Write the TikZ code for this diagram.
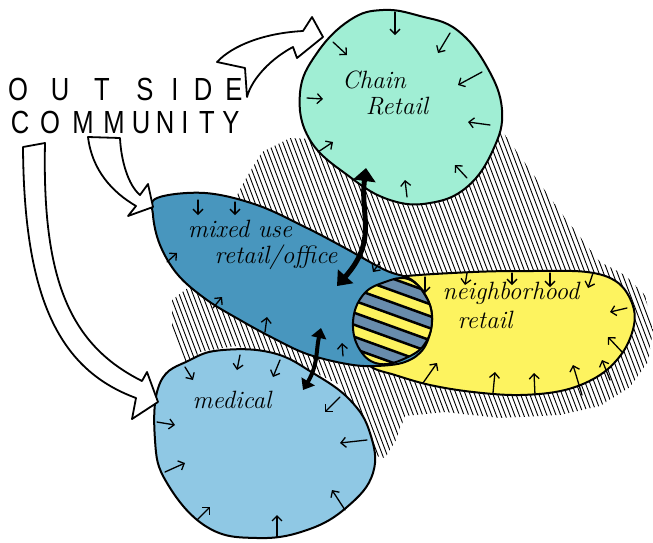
\documentclass[tikz,border=0pt]{standalone}
\usepackage{fontspec}
\newfontfamily\letterfont[FakeStretch=0.8]{Liberation Sans}
\usetikzlibrary{arrows.meta}
\definecolor{mint}{RGB}{160,238,212}
\definecolor{mixblue}{RGB}{72,150,190}
\definecolor{sun}{RGB}{253,243,95}
\definecolor{skyblue}{RGB}{143,200,228}
\definecolor{slate}{RGB}{104,140,172}
\begin{document}
\begin{tikzpicture}[x=1pt,y=-1pt,
  region/.style={draw=black,line width=2pt,line join=round},
  blockarrow/.style={draw=black,fill=white,line width=1.8pt,line join=round},
  inarrow/.style={line width=1.3pt,line cap=round,-{Straight Barb[length=5pt,width=10pt]}},
  linkarrow/.style={line width=5pt,{Triangle[length=13pt,width=22pt]}-{Triangle[length=13pt,width=20pt]}},
  smalllink/.style={line width=4pt,{Triangle[length=10pt,width=15pt]}-{Triangle[length=10pt,width=15pt]}},
  hatchline/.style={line width=0.9pt},
  bigletter/.style={font=\letterfont\fontsize{32}{32}\selectfont,inner sep=0pt,anchor=base},
  hand/.style={font=\itshape\fontsize{25}{27}\selectfont,inner sep=0pt}]
\useasboundingbox (0,0) rectangle (653,542);

% hatched ground behind the districts
\begin{scope}
  \clip (232,205) -- (245,180) -- (262,152) -- (290,138) -- (330,140) -- (470,160)
    -- (500,128) -- (530,170) -- (565,218) -- (600,262) -- (625,275) -- (645,295)
    -- (653,330) -- (648,362) -- (630,387) -- (600,406) -- (560,415) -- (500,418)
    -- (445,412) -- (405,416) -- (396,440) -- (385,458) -- (372,455) -- (365,430)
    -- (340,385) -- (290,360) -- (235,346) -- (200,352) -- (185,368) -- (172,330)
    -- (172,300) -- (185,290) -- (200,280) -- cycle;
  \foreach \s in {0,4.6,...,660} \draw[hatchline] (\s,100) -- ++(170,450);
\end{scope}

% districts
\path[region,fill=mint] plot[smooth cycle,tension=0.7] coordinates {
  (383,10) (420,16) (457,30) (487,67) (502,110) (493,150) (467,187) (430,203)
  (390,200) (350,177) (310,140) (300,93) (317,53) (350,20)};
\path[region,fill=skyblue] plot[smooth cycle,tension=0.7] coordinates {
  (190,360) (223,350) (273,353) (313,373) (350,400) (370,433) (373,473)
  (347,507) (307,530) (257,538) (207,527) (167,483) (155,440) (160,383)};
\path[region,fill=sun] plot[smooth cycle,tension=0.6] coordinates {
  (397,277) (473,272) (530,271) (587,272) (617,282) (632,303) (634,325)
  (623,352) (600,375) (565,390) (520,395) (473,392) (430,385) (395,375)
  (370,366) (355,345) (355,305) (372,285)};
\path[region,fill=mixblue] plot[smooth cycle,tension=0.6] coordinates {
  (157,198) (205,193) (257,205) (307,228) (345,248) (385,270) (412,280)
  (428,300) (432,322) (424,348) (405,362) (375,366) (347,364) (307,354)
  (273,338) (240,320) (207,300) (178,275) (160,245) (153,215)};

% shared ground of mixed use and neighborhood retail
\def\lens{plot[smooth cycle,tension=0.7] coordinates {
  (353,322) (363,295) (385,282) (408,279) (425,295) (432,318) (426,342)
  (408,357) (380,364) (360,350)}}
\begin{scope}
  \clip \lens;
  \fill[sun] (330,260) rectangle (460,390);
  \foreach \k in {-4,...,4} {
    \draw[slate,line width=11pt] (330,{286+24*\k}) -- ++(130,47);
    \draw[black,line width=2.5pt] (330,{280+24*\k}) -- ++(130,47);
    \draw[black,line width=2.5pt] (330,{292+24*\k}) -- ++(130,47);
  }
\end{scope}
\draw[region] \lens;

% inward arrows along the edges
\foreach \a/\b/\c/\d in {
  395/12/395/35, 333/42/347/55, 450/33/438/53, 482/72/458/85, 490/125/468/122,
  467/178/455/165, 407/197/405/180, 318/152/333/142, 307/98/323/99,
  198/200/198/215, 235/202/235/215, 167/262/177/253, 213/308/222/297,
  265/332/267/317, 343/356/342/343, 380/262/373/272,
  425/277/425/293, 467/273/465/285, 512/273/512/285, 550/273/550/287,
  593/273/588/288, 627/308/610/312, 623/353/608/337, 610/380/602/360,
  582/395/573/365, 535/395/534/373, 493/393/495/372, 423/383/437/363,
  185/367/193/380, 240/355/237/370, 280/360/273/377, 340/397/325/412,
  367/440/340/443, 345/510/332/490, 277/537/277/515, 197/520/210/507,
  165/472/185/463, 157/422/175/425}
  \draw[inarrow] (\a,\b) -- (\c,\d);

% links between districts
\coordinate (chainend) at (366,168);
\coordinate (mixedtop) at (337,286);
\coordinate (mixedlow) at (321,328);
\coordinate (medtop) at (303,390);
\draw[linkarrow] (chainend) .. controls (360,215) and (378,240) .. (mixedtop);
\draw[smalllink] (mixedlow) .. controls (316,350) and (318,365) .. (medtop);

% flows from the outside community
\path[blockarrow] (217,62) .. controls (233,45) and (265,33) .. (303,31)
  -- (312,17) -- (323,37) -- (297,58) -- (293,47)
  .. controls (272,58) and (252,78) .. (247,97) -- (245,68) -- cycle;
\path[blockarrow] (88,137) -- (120,138) .. controls (121,160) and (128,185) .. (140,195)
  -- (148,184) -- (153,207) -- (128,216) -- (136,206)
  .. controls (112,192) and (92,170) .. (88,137) -- cycle;
\path[blockarrow] (23,147) -- (45,143) .. controls (42,280) and (70,345) .. (142,381)
  -- (147,372) -- (158,402) -- (132,419) -- (136,398)
  .. controls (60,370) and (24,300) .. (23,147) -- cycle;

% outside community lettering
\foreach \ch/\x [count=\k] in {O/18,U/60,T/102,S/145,I/175,D/203,E/234}
  \node[bigletter] (out\k) at (\x,100) {\ch};
\foreach \ch/\x [count=\k] in {C/20,O/50,M/83,M/114,U/141,N/165,I/185,T/207,Y/231}
  \node[bigletter] (com\k) at (\x,133) {\ch};

% district names
\node[hand] (chain) at (374,80) {Chain};
\node[hand] (chainb) at (397,106) {Retail};
\node[hand] (mixed) at (240,229) {mixed use};
\node[hand] (mixedb) at (276,257) {retail/office};
\node[hand] (neigh) at (511,293) {neighborhood};
\node[hand] (neighb) at (485,320) {retail};
\node[hand] (med) at (232,400) {medical};
\end{tikzpicture}
\end{document}
